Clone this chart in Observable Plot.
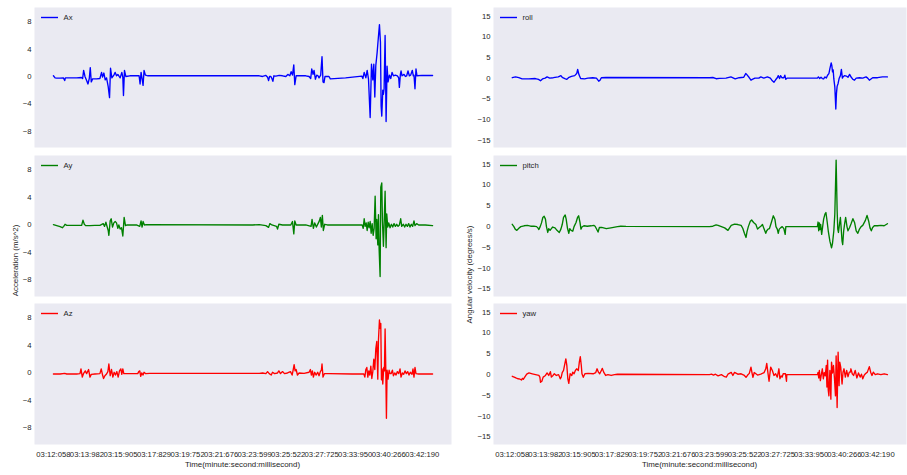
<!DOCTYPE html>
<html><head><meta charset="utf-8">
<script src="https://cdn.jsdelivr.net/npm/d3@7"></script>
<script src="https://cdn.jsdelivr.net/npm/@observablehq/plot@0.6"></script>
<style>
html,body{margin:0;padding:0;background:#fff;}
#fig{position:relative;width:907px;height:475px;overflow:hidden;font-family:"Liberation Sans",Arial,sans-serif;}
#fig svg{position:absolute;}
</style></head><body><div id="fig"></div>
<script>
// ---- tick labels (x is the sample index; one label every tickStep samples) ----
const timeLabels = ["03:12:058","03:13:982","03:15:905","03:17:829","03:19:752","03:21:676","03:23:599","03:25:522","03:27:725","03:33:950","03:40:266","03:42:190"];
const tickStep = 101;
const accTicks = [-8,-4,0,4,8];
const gyroTicks = [-15,-10,-5,0,5,10,15];

// ---- series: [sample index, value] ----
const axData = [[0,0.1],[5,-0.2],[10,-0.25],[20,-0.25],[30,-0.2],[34,-0.6],[36,-0.2],[50,-0.2],[70,-0.2],[84,-0.15],[88,-0.3],[91,0.9],[95,0.0],[100,-0.6],[104,-1.1],[108,-0.3],[111,1.3],[114,-0.8],[118,-0.35],[130,-0.35],[140,-0.3],[145,0.6],[148,-0.1],[152,0.5],[156,-0.5],[160,-0.2],[165,-1.5],[169,-3.1],[172,1.2],[176,-0.2],[182,0.2],[186,0.6],[190,0.1],[194,0.3],[198,0.0],[201,-0.2],[206,0.6],[209,-0.1],[211,-2.8],[214,0.9],[218,0.0],[230,0.1],[250,0.1],[258,0.1],[261,-1.1],[264,0.6],[267,-0.3],[270,-1.3],[273,0.9],[277,0.2],[285,0.1],[400,0.1],[600,0.1],[620,0.1],[630,0.0],[640,0.15],[645,-0.1],[648,-0.6],[651,0.0],[655,0.0],[658,-0.3],[661,-0.7],[664,0.1],[670,0.05],[680,0.15],[690,0.1],[700,0.0],[706,0.3],[712,0.1],[716,0.7],[720,0.2],[724,1.7],[727,-1.2],[731,0.1],[740,0.1],[760,0.1],[770,0.0],[775,-0.3],[778,1.1],[782,0.3],[785,0.9],[789,-0.4],[793,0.2],[797,0.1],[800,-0.2],[805,0.2],[809,2.9],[812,-0.8],[815,-0.9],[818,0.0],[830,0.0],[834,-0.35],[880,-0.2],[929,0.05],[932,-0.3],[936,0.6],[941,-0.2],[945,0.9],[949,-0.4],[954,-6.0],[958,1.8],[962,-0.5],[965,1.8],[968,-3.0],[971,1.6],[975,3.5],[978,5.3],[982,7.6],[985,5.0],[987,-4.3],[989,-5.8],[992,-2.0],[994,-2.6],[996,-1.8],[999,6.0],[1002,-6.6],[1005,1.5],[1008,-0.8],[1012,0.2],[1016,-0.3],[1020,0.6],[1024,0.1],[1030,0.2],[1036,0.1],[1040,-0.2],[1042,-1.6],[1045,0.3],[1047,0.8],[1050,0.1],[1056,0.3],[1060,0.0],[1064,0.1],[1068,0.8],[1072,0.1],[1076,0.2],[1081,0.9],[1084,0.1],[1086,0.2],[1089,-1.8],[1092,1.1],[1095,0.1],[1110,0.15],[1142,0.15]];

const ayData = [[0,0.05],[10,-0.1],[20,-0.25],[27,-0.4],[31,-0.2],[35,0.1],[40,-0.05],[60,-0.05],[85,-0.05],[89,0.7],[93,0.1],[97,-0.1],[110,-0.1],[125,-0.05],[140,-0.05],[150,0.2],[154,-0.2],[158,0.4],[162,-0.3],[165,-0.8],[167,-1.5],[171,0.6],[174,0.9],[178,-0.3],[182,0.3],[186,0.5],[190,0.3],[194,-0.5],[197,0.0],[201,-0.6],[205,-0.4],[209,-1.6],[213,1.1],[217,-0.1],[222,0.0],[250,0.0],[260,-0.2],[264,0.6],[267,-0.3],[270,0.5],[274,0.0],[280,0.05],[600,0.0],[620,0.05],[640,-0.1],[648,-0.35],[652,0.2],[658,0.0],[672,-0.2],[675,-0.6],[679,0.1],[690,0.0],[715,0.0],[720,0.5],[724,-1.3],[727,0.6],[731,0.0],[760,0.0],[776,-0.2],[779,0.8],[783,-0.5],[787,0.3],[792,-0.3],[797,0.2],[801,0.6],[804,1.1],[807,-0.3],[810,1.4],[813,-0.8],[817,0.1],[825,0.0],[930,0.0],[933,-0.5],[936,0.9],[939,-0.2],[942,0.3],[945,-0.8],[948,0.4],[951,-0.4],[954,0.5],[957,-1.2],[960,0.2],[963,-1.5],[966,-0.5],[969,4.2],[972,-2.0],[974,0.8],[977,-2.9],[979,1.5],[981,-3.5],[984,-7.5],[986,5.5],[989,6.1],[991,0.5],[994,-3.1],[996,0.0],[999,4.9],[1002,-3.3],[1004,1.6],[1007,-0.3],[1010,0.3],[1014,-0.4],[1018,0.1],[1022,-0.3],[1026,0.2],[1030,-0.2],[1034,0.1],[1038,-0.2],[1042,0.0],[1046,0.9],[1049,-0.2],[1054,0.1],[1058,-0.3],[1062,0.1],[1066,-0.2],[1070,0.2],[1074,-0.3],[1078,0.1],[1082,-0.2],[1086,0.6],[1089,-0.1],[1094,0.2],[1100,0.0],[1120,0.0],[1142,-0.1]];

const azData = [[0,-0.15],[20,-0.15],[34,-0.05],[40,-0.15],[70,-0.15],[80,-0.1],[83,0.6],[87,-0.6],[91,-0.05],[96,0.3],[100,-0.1],[106,0.5],[110,-0.6],[114,-0.2],[125,-0.15],[140,-0.1],[144,0.6],[148,-0.3],[151,-0.8],[155,-0.4],[160,-0.15],[164,0.2],[167,1.3],[171,-0.4],[175,0.5],[179,-0.6],[183,0.1],[187,-0.3],[191,0.2],[195,-0.6],[199,0.3],[203,0.6],[206,-0.2],[209,0.6],[212,-0.1],[218,-0.1],[254,-0.1],[257,0.2],[260,0.3],[263,-0.5],[266,0.0],[270,-0.3],[273,0.1],[278,-0.1],[290,-0.05],[600,-0.05],[620,-0.05],[630,0.0],[640,-0.1],[645,0.2],[650,-0.1],[656,-0.3],[660,0.1],[666,-0.1],[675,0.0],[679,0.3],[684,-0.1],[690,0.2],[696,-0.1],[705,0.0],[714,0.2],[719,-0.3],[722,0.4],[725,1.2],[728,0.3],[731,0.5],[735,-0.3],[740,0.0],[755,-0.05],[770,0.1],[774,0.5],[777,-0.3],[780,0.3],[783,-0.6],[787,0.1],[791,-0.3],[796,0.1],[800,-0.4],[804,0.2],[807,0.4],[809,1.3],[812,-0.6],[816,-0.1],[830,-0.1],[900,-0.15],[935,-0.15],[938,-0.6],[941,0.5],[944,0.8],[947,-0.6],[950,0.3],[953,-0.3],[956,1.0],[959,-0.8],[962,0.2],[965,2.0],[968,0.5],[971,3.5],[974,4.6],[977,-0.9],[979,4.8],[982,7.7],[984,6.5],[986,7.2],[988,-1.0],[990,0.6],[992,-1.6],[995,0.8],[997,0.3],[999,6.4],[1001,0.8],[1003,-6.6],[1005,0.4],[1008,-0.9],[1011,0.4],[1014,-0.1],[1017,-0.1],[1021,0.4],[1024,-0.4],[1028,0.0],[1032,-0.3],[1036,0.2],[1040,-0.1],[1044,0.6],[1047,-0.6],[1051,0.0],[1055,-0.2],[1059,0.3],[1063,-0.1],[1067,0.2],[1071,-0.3],[1075,0.1],[1080,-0.2],[1083,0.6],[1086,-0.6],[1089,0.8],[1092,-0.1],[1100,-0.15],[1142,-0.15]];

const rollData = [[0,0.1],[10,0.3],[20,0.1],[30,-0.2],[50,-0.2],[70,-0.1],[80,-0.3],[86,-0.65],[92,-0.2],[100,0.0],[106,0.3],[114,0.0],[125,0.1],[140,0.3],[148,0.6],[152,0.2],[160,-0.1],[166,-0.3],[171,0.1],[180,0.4],[190,0.6],[196,1.1],[199,2.1],[203,0.8],[208,-0.1],[220,-0.2],[230,0.0],[245,0.1],[256,0.0],[263,-0.75],[267,-0.5],[271,0.1],[285,0.15],[600,0.1],[610,0.15],[620,-0.15],[630,-0.05],[650,0.0],[665,0.3],[678,-0.2],[690,0.1],[704,0.2],[710,1.1],[714,0.8],[720,0.2],[726,-0.5],[730,-0.3],[738,0.0],[750,0.0],[756,0.3],[765,0.0],[776,0.3],[785,0.0],[791,-0.65],[796,-1.0],[801,-0.4],[806,0.1],[809,0.6],[813,-0.1],[816,0.6],[820,0.1],[826,0.1],[829,0.7],[832,-0.3],[836,0.0],[928,0.0],[931,0.3],[935,-0.1],[939,0.2],[943,-0.1],[947,-0.2],[951,0.3],[955,0.0],[959,0.7],[963,1.1],[966,2.3],[970,3.7],[972,3.0],[974,1.5],[976,2.0],[978,-0.2],[981,-2.1],[984,-7.5],[986,-3.7],[988,-2.0],[991,-1.3],[994,-0.1],[998,0.6],[1001,2.1],[1004,0.0],[1007,0.4],[1011,0.6],[1016,0.5],[1021,0.2],[1026,0.9],[1031,0.2],[1036,-0.3],[1041,-0.5],[1046,0.0],[1056,0.1],[1066,0.0],[1076,0.3],[1081,0.0],[1086,-0.5],[1091,-0.2],[1096,0.1],[1111,0.1],[1126,0.3],[1141,0.3]];

const pitchData = [[0,0.55],[5,0.0],[9,-0.6],[14,-0.9],[20,-0.4],[26,0.0],[36,0.2],[46,0.3],[56,0.1],[66,0.1],[74,0.0],[78,-0.3],[81,-0.7],[85,0.0],[89,0.9],[93,2.2],[97,2.5],[101,1.8],[104,0.0],[108,-1.4],[111,-0.5],[115,-0.9],[119,-0.5],[123,-0.1],[130,-0.3],[136,-0.9],[143,-1.4],[148,-0.6],[152,0.5],[156,2.2],[161,2.8],[164,1.8],[168,-0.4],[172,-1.6],[175,-0.5],[179,-0.9],[184,-1.1],[188,0.0],[194,1.0],[199,2.3],[202,2.6],[206,1.0],[209,-0.6],[212,-0.1],[218,0.2],[228,0.1],[240,0.2],[248,0.3],[252,0.1],[256,-0.5],[261,-1.3],[265,-0.2],[272,-0.2],[286,-0.5],[300,-0.3],[320,0.0],[330,0.1],[346,0.05],[600,0.0],[610,0.1],[620,0.4],[626,0.3],[636,0.0],[646,-0.3],[656,-0.9],[660,-0.4],[666,0.3],[676,0.6],[686,0.5],[696,0.3],[701,-0.4],[706,-1.6],[711,-2.6],[714,-1.2],[718,0.0],[724,1.3],[728,1.6],[734,1.0],[741,0.5],[746,-0.6],[751,-0.2],[756,0.1],[761,0.5],[766,-0.6],[771,-1.6],[774,-1.0],[778,-0.6],[782,-0.5],[788,1.0],[794,2.6],[799,1.7],[802,0.0],[806,-0.6],[809,-1.6],[812,-0.6],[816,-0.3],[821,0.0],[826,-0.5],[830,-1.85],[832,0.0],[928,0.0],[930,1.1],[932,-1.0],[934,0.9],[936,-0.7],[938,0.5],[941,-1.85],[944,0.0],[947,1.8],[951,3.0],[954,3.4],[958,1.0],[961,-1.0],[966,-3.5],[971,-5.1],[974,-4.0],[978,-1.0],[981,3.0],[985,16.0],[988,4.0],[990,-0.6],[992,-1.4],[995,0.5],[998,2.2],[1000,0.0],[1003,-3.5],[1005,-4.3],[1008,-1.0],[1011,0.8],[1014,2.2],[1018,0.0],[1021,-1.0],[1026,-0.2],[1031,0.8],[1036,1.9],[1041,1.0],[1046,-1.0],[1051,-1.6],[1056,-0.6],[1061,0.0],[1066,0.3],[1074,1.5],[1079,2.7],[1084,1.3],[1088,-0.3],[1092,-1.0],[1096,-0.2],[1101,0.2],[1111,0.2],[1121,0.3],[1131,0.2],[1141,0.7]];

const yawData = [[0,-0.4],[6,-0.6],[11,-0.8],[18,-1.0],[24,-1.1],[28,-1.3],[31,-0.9],[34,-1.1],[38,-0.6],[44,0.1],[51,0.4],[61,0.2],[71,0.0],[81,-0.2],[84,-0.6],[86,-1.85],[90,-1.6],[94,-0.6],[101,-0.2],[106,0.4],[111,-0.2],[116,0.7],[119,-0.6],[124,-0.2],[128,0.2],[134,-0.2],[141,0.0],[146,-1.0],[149,-0.6],[152,0.5],[156,1.0],[159,2.2],[163,3.8],[166,2.2],[169,-1.0],[172,-2.1],[176,0.2],[181,-0.2],[184,0.6],[188,0.2],[192,1.0],[196,1.4],[201,1.0],[204,3.0],[207,4.3],[210,2.2],[212,0.2],[216,-0.65],[221,0.2],[231,0.3],[246,0.2],[254,0.5],[258,1.4],[262,0.6],[266,0.2],[271,1.0],[274,1.5],[278,0.6],[284,-0.2],[291,0.0],[301,-0.2],[311,0.0],[320,0.1],[600,0.0],[606,0.1],[612,-0.1],[618,0.1],[626,-0.3],[636,0.0],[646,-0.5],[651,-0.6],[656,0.1],[666,0.55],[671,-0.2],[676,0.55],[686,0.1],[696,0.2],[706,-0.2],[711,-0.65],[716,-0.1],[721,0.3],[726,1.8],[729,0.5],[732,-0.65],[736,0.5],[746,-0.1],[756,0.1],[766,0.5],[771,1.4],[774,2.7],[778,0.2],[781,-1.6],[786,1.8],[791,1.0],[796,-0.2],[801,0.2],[806,-0.6],[811,1.4],[814,-1.0],[818,-0.3],[821,-0.6],[824,0.2],[831,0.2],[834,-1.6],[835,0.0],[928,0.0],[930,0.55],[932,-0.8],[934,1.0],[937,-1.45],[940,0.0],[943,1.4],[946,-1.0],[949,0.5],[952,-0.3],[955,2.2],[957,-3.0],[959,3.5],[961,-3.7],[963,-5.1],[966,1.0],[969,-5.9],[971,3.0],[974,0.4],[977,2.2],[980,-1.0],[983,-5.1],[985,4.5],[988,-7.9],[991,5.4],[994,-2.65],[996,3.0],[999,1.8],[1003,-2.25],[1006,0.6],[1009,1.4],[1013,-0.6],[1017,1.0],[1021,-0.5],[1025,0.6],[1028,0.6],[1030,1.4],[1034,0.2],[1038,-0.2],[1043,1.0],[1048,-0.8],[1053,0.4],[1058,-0.6],[1062,0.1],[1066,-1.0],[1070,-0.2],[1074,0.2],[1080,0.6],[1084,1.5],[1086,1.9],[1090,0.6],[1094,-0.2],[1098,0.6],[1104,0.0],[1111,0.2],[1121,0.0],[1131,0.2],[1141,0.0]];

// ---- layout ----
const panels = [
  {name:"Ax", data:axData, color:"#0000ff", col:0, row:0},
  {name:"Ay", data:ayData, color:"#008000", col:0, row:1},
  {name:"Az", data:azData, color:"#ff0000", col:0, row:2},
  {name:"roll", data:rollData, color:"#0000ff", col:1, row:0},
  {name:"pitch", data:pitchData, color:"#008000", col:1, row:1},
  {name:"yaw", data:yawData, color:"#ff0000", col:1, row:2}
];
const cols = [
  {left:0, x0:34, x1:451, right:451, yDomain:[-10.4,10.1], yTicks:accTicks},
  {left:455, x0:493, x1:906, right:907, yDomain:[-16.8,17.1], yTicks:gyroTicks}
];
const rows = [{y0:7,y1:147},{y0:155,y1:296},{y0:303,y1:444}];
const xDomain = [-57, 1199];
const BG = "#EAEAF2", TXT = "#262626", FONT = "'Liberation Sans', Arial, sans-serif";
const TICK_FS = "7.7px", LABEL_FS = "7.9px";
const fmtMinus = d => d < 0 ? "\u2212" + Math.abs(d) : String(d);
const fig = document.getElementById("fig");

for (const p of panels) {
  const c = cols[p.col], r = rows[p.row];
  const bottom = p.row === 2;
  const top = r.y0 - 7;
  const mb = bottom ? 475 - r.y1 : 0;
  const marks = [
    Plot.frame({fill: BG, stroke: "none"}),
    Plot.axisY({ticks: c.yTicks, tickSize: 0, tickPadding: 3, tickFormat: fmtMinus, label: null})
  ];
  if (bottom) {
    marks.push(Plot.axisX({ticks: timeLabels.map((_, i) => i * tickStep), tickSize: 0, tickPadding: 7,
      tickFormat: d => timeLabels[Math.round(d / tickStep)], label: null}));
  }
  marks.push(Plot.line(p.data, {x: d => d[0], y: d => d[1], stroke: p.color, strokeWidth: 1.35}));
  const svg = Plot.plot({
    width: c.right - c.left,
    height: 7 + (r.y1 - r.y0) + mb,
    marginLeft: c.x0 - c.left,
    marginRight: c.right - c.x1,
    marginTop: 7,
    marginBottom: mb,
    x: {domain: xDomain, axis: null},
    y: {domain: c.yDomain, axis: null},
    style: {fontFamily: FONT, fontSize: TICK_FS, color: TXT, background: "transparent", overflow: "visible"},
    marks
  });
  svg.style.left = c.left + "px";
  svg.style.top = top + "px";
  fig.appendChild(svg);
}

// ---- overlay: legends and axis titles ----
const ov = d3.select(fig).append("svg").attr("width", 907).attr("height", 475)
  .style("left", "0px").style("top", "0px").style("pointer-events", "none")
  .style("font-family", FONT).attr("fill", TXT);
for (const p of panels) {
  const c = cols[p.col], r = rows[p.row];
  const ly = r.y0 + 10.5;
  ov.append("line").attr("x1", c.x0 + 7).attr("x2", c.x0 + 24).attr("y1", ly).attr("y2", ly)
    .attr("stroke", p.color).attr("stroke-width", 1.4);
  ov.append("text").attr("x", c.x0 + 29.5).attr("y", ly).attr("dy", "0.35em")
    .style("font-size", TICK_FS).text(p.name);
}
const yTitles = [
  {text: "Acceleration (m/s^2)", x: 15, y: 260.5},
  {text: "Angular velocity (degrees/s)", x: 469, y: 274.5}
];
for (const t of yTitles) {
  ov.append("text").attr("transform", `translate(${t.x},${t.y}) rotate(-90)`)
    .attr("text-anchor", "middle").attr("dy", "0.35em").style("font-size", LABEL_FS).text(t.text);
}
for (const c of cols) {
  ov.append("text").attr("x", (c.x0 + c.x1) / 2).attr("y", 464.3).attr("dy", "0.35em")
    .attr("text-anchor", "middle").style("font-size", LABEL_FS).text("Time(minute:second:millisecond)");
}
</script></body></html>
